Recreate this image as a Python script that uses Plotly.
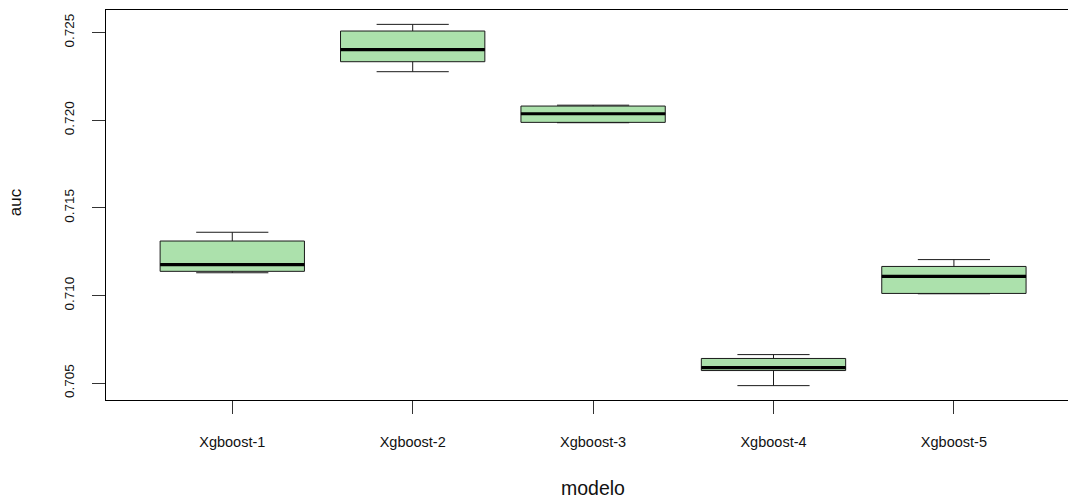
import plotly.graph_objects as go

# AUC distribution per model
modelos = ["Xgboost-1", "Xgboost-2", "Xgboost-3", "Xgboost-4", "Xgboost-5"]
auc_min = [0.71130, 0.72277, 0.71986, 0.70486, 0.71010]
auc_q1 = [0.71138, 0.72334, 0.71988, 0.70572, 0.71012]
auc_median = [0.71176, 0.72403, 0.72037, 0.70589, 0.71109]
auc_q3 = [0.71311, 0.72509, 0.72081, 0.70641, 0.71166]
auc_max = [0.71361, 0.72547, 0.72086, 0.70663, 0.71205]

y_ticks = [0.705, 0.710, 0.715, 0.720, 0.725]

pos = list(range(1, len(modelos) + 1))
box_w = 0.8
font_family = "Liberation Sans, Arial, Helvetica, sans-serif"

fig = go.Figure()

fig.add_trace(go.Box(
    x=pos,
    q1=auc_q1,
    median=auc_median,
    q3=auc_q3,
    lowerfence=auc_min,
    upperfence=auc_max,
    width=box_w,
    whiskerwidth=0.5,
    fillcolor="#ACE1AC",
    line=dict(color="#1a1a1a", width=1),
    boxpoints=False,
    hoverinfo="skip",
    showlegend=False,
))

# thick median bars
mx, my = [], []
for p, m in zip(pos, auc_median):
    mx += [p - box_w / 2, p + box_w / 2, None]
    my += [m, m, None]
fig.add_trace(go.Scatter(
    x=mx, y=my, mode="lines",
    line=dict(color="black", width=3.2),
    hoverinfo="skip", showlegend=False,
))

fig.update_layout(
    width=1068, height=500,
    margin=dict(l=105.5, r=0, t=10, b=100),
    paper_bgcolor="white", plot_bgcolor="white",
    font=dict(family=font_family, color="black"),
    xaxis=dict(
        range=[0.3, 5.6324],
        tickmode="array", tickvals=pos, ticktext=modelos,
        ticks="outside", ticklen=13, tickwidth=1, tickcolor="#333",
        tickfont=dict(size=14.5, color="#111"),
        ticklabelstandoff=16,
        showline=True, linecolor="black", linewidth=1, mirror=True,
        showgrid=False, zeroline=False,
    ),
    yaxis=dict(
        range=[0.70404, 0.72629],
        tickmode="array", tickvals=y_ticks,
        ticktext=[f"{v:.3f}" for v in y_ticks],
        tickangle=-90,
        ticks="outside", ticklen=13, tickwidth=1, tickcolor="#333",
        tickfont=dict(size=13.5, color="#111"),
        ticklabelstandoff=13,
        showline=True, linecolor="black", linewidth=1, mirror=False,
        showgrid=False, zeroline=False,
    ),
    annotations=[
        dict(text="modelo", xref="x", yref="paper", x=3, y=-0.2265,
             yanchor="middle", xanchor="center", showarrow=False,
             font=dict(size=19.5, family=font_family, color="#111")),
        dict(text="auc", xref="paper", yref="paper", x=-0.0933, y=0.5077,
             xanchor="center", yanchor="middle", textangle=-90, showarrow=False,
             font=dict(size=17, family=font_family, color="#111")),
    ],
)

fig.write_html("out.html")
